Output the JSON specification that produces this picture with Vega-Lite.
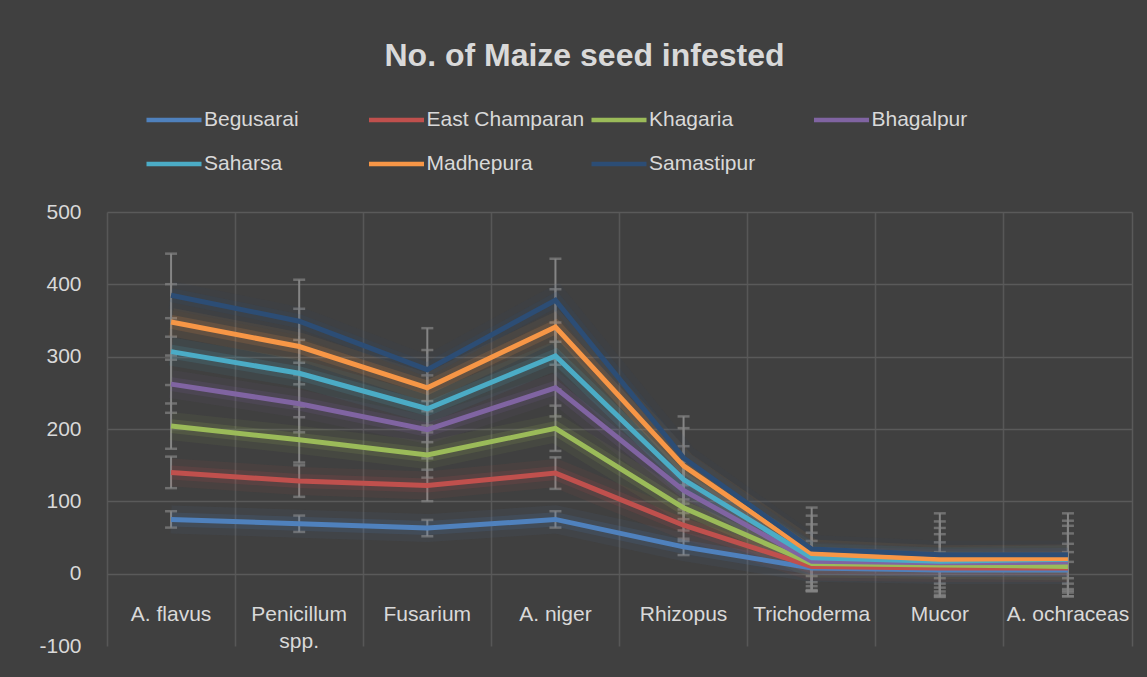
{
  "$schema": "https://vega.github.io/schema/vega-lite/v6.json",
  "width": 1025,
  "height": 434,
  "autosize": {"type": "none"},
  "padding": {"left": 107, "top": 212, "right": 15, "bottom": 31},
  "background": "#404040",
  "title": {"text": "No. of Maize seed infested", "frame": "group", "anchor": "middle", "orient": "top", "offset": 17, "dx": -35, "font": "Liberation Sans", "fontSize": 32, "fontWeight": "bold", "color": "#d9d9d9"},
  "config": {"view": {"stroke": null}, "font": "Liberation Sans"},
  "data": {"values": [
    {"fungus": "A. flavus", "district": "Begusarai", "seeds": 75, "se": 11.3},
    {"fungus": "Penicillum spp.", "district": "Begusarai", "seeds": 69, "se": 11.3},
    {"fungus": "Fusarium", "district": "Begusarai", "seeds": 63, "se": 11.3},
    {"fungus": "A. niger", "district": "Begusarai", "seeds": 75, "se": 11.3},
    {"fungus": "Rhizopus", "district": "Begusarai", "seeds": 37, "se": 11.3},
    {"fungus": "Trichoderma", "district": "Begusarai", "seeds": 8, "se": 11.3},
    {"fungus": "Mucor", "district": "Begusarai", "seeds": 5, "se": 11.3},
    {"fungus": "A. ochraceas", "district": "Begusarai", "seeds": 5, "se": 11.3},
    {"fungus": "A. flavus", "district": "East Champaran", "seeds": 140, "se": 21.8},
    {"fungus": "Penicillum spp.", "district": "East Champaran", "seeds": 128, "se": 21.8},
    {"fungus": "Fusarium", "district": "East Champaran", "seeds": 122, "se": 21.8},
    {"fungus": "A. niger", "district": "East Champaran", "seeds": 139, "se": 21.8},
    {"fungus": "Rhizopus", "district": "East Champaran", "seeds": 67, "se": 21.8},
    {"fungus": "Trichoderma", "district": "East Champaran", "seeds": 10, "se": 21.8},
    {"fungus": "Mucor", "district": "East Champaran", "seeds": 8, "se": 21.8},
    {"fungus": "A. ochraceas", "district": "East Champaran", "seeds": 8, "se": 21.8},
    {"fungus": "A. flavus", "district": "Khagaria", "seeds": 204, "se": 31.3},
    {"fungus": "Penicillum spp.", "district": "Khagaria", "seeds": 185, "se": 31.3},
    {"fungus": "Fusarium", "district": "Khagaria", "seeds": 164, "se": 31.3},
    {"fungus": "A. niger", "district": "Khagaria", "seeds": 201, "se": 31.3},
    {"fungus": "Rhizopus", "district": "Khagaria", "seeds": 91, "se": 31.3},
    {"fungus": "Trichoderma", "district": "Khagaria", "seeds": 14, "se": 31.3},
    {"fungus": "Mucor", "district": "Khagaria", "seeds": 12, "se": 31.3},
    {"fungus": "A. ochraceas", "district": "Khagaria", "seeds": 10, "se": 31.3},
    {"fungus": "A. flavus", "district": "Bhagalpur", "seeds": 262, "se": 39.6},
    {"fungus": "Penicillum spp.", "district": "Bhagalpur", "seeds": 235, "se": 39.6},
    {"fungus": "Fusarium", "district": "Bhagalpur", "seeds": 199, "se": 39.6},
    {"fungus": "A. niger", "district": "Bhagalpur", "seeds": 257, "se": 39.6},
    {"fungus": "Rhizopus", "district": "Bhagalpur", "seeds": 115, "se": 39.6},
    {"fungus": "Trichoderma", "district": "Bhagalpur", "seeds": 17, "se": 39.6},
    {"fungus": "Mucor", "district": "Bhagalpur", "seeds": 15, "se": 39.6},
    {"fungus": "A. ochraceas", "district": "Bhagalpur", "seeds": 16, "se": 39.6},
    {"fungus": "A. flavus", "district": "Saharsa", "seeds": 307, "se": 46.2},
    {"fungus": "Penicillum spp.", "district": "Saharsa", "seeds": 277, "se": 46.2},
    {"fungus": "Fusarium", "district": "Saharsa", "seeds": 228, "se": 46.2},
    {"fungus": "A. niger", "district": "Saharsa", "seeds": 301, "se": 46.2},
    {"fungus": "Rhizopus", "district": "Saharsa", "seeds": 130, "se": 46.2},
    {"fungus": "Trichoderma", "district": "Saharsa", "seeds": 22, "se": 46.2},
    {"fungus": "Mucor", "district": "Saharsa", "seeds": 17, "se": 46.2},
    {"fungus": "A. ochraceas", "district": "Saharsa", "seeds": 20, "se": 46.2},
    {"fungus": "A. flavus", "district": "Madhepura", "seeds": 348, "se": 52.2},
    {"fungus": "Penicillum spp.", "district": "Madhepura", "seeds": 314, "se": 52.2},
    {"fungus": "Fusarium", "district": "Madhepura", "seeds": 257, "se": 52.2},
    {"fungus": "A. niger", "district": "Madhepura", "seeds": 341, "se": 52.2},
    {"fungus": "Rhizopus", "district": "Madhepura", "seeds": 149, "se": 52.2},
    {"fungus": "Trichoderma", "district": "Madhepura", "seeds": 28, "se": 52.2},
    {"fungus": "Mucor", "district": "Madhepura", "seeds": 20, "se": 52.2},
    {"fungus": "A. ochraceas", "district": "Madhepura", "seeds": 21, "se": 52.2},
    {"fungus": "A. flavus", "district": "Samastipur", "seeds": 385, "se": 57.4},
    {"fungus": "Penicillum spp.", "district": "Samastipur", "seeds": 349, "se": 57.4},
    {"fungus": "Fusarium", "district": "Samastipur", "seeds": 282, "se": 57.4},
    {"fungus": "A. niger", "district": "Samastipur", "seeds": 378, "se": 57.4},
    {"fungus": "Rhizopus", "district": "Samastipur", "seeds": 160, "se": 57.4},
    {"fungus": "Trichoderma", "district": "Samastipur", "seeds": 34, "se": 57.4},
    {"fungus": "Mucor", "district": "Samastipur", "seeds": 26, "se": 57.4},
    {"fungus": "A. ochraceas", "district": "Samastipur", "seeds": 26, "se": 57.4}
  ]},
  "layer": [
    {
      "mark": {"type": "errorbar", "color": "#858585", "ticks": {"size": 12, "thickness": 2.5, "color": "#858585"}, "rule": {"strokeWidth": 2, "color": "#858585"}},
      "encoding": {
        "x": {"field": "fungus", "type": "nominal", "sort": ["A. flavus", "Penicillum spp.", "Fusarium", "A. niger", "Rhizopus", "Trichoderma", "Mucor", "A. ochraceas"], "scale": {"paddingInner": 0, "paddingOuter": 0},
          "axis": {"orient": "bottom", "bandPosition": 0, "grid": true, "gridColor": "#575757", "gridWidth": 1.5, "labels": false, "ticks": false, "domain": false, "title": null}},
        "y": {"field": "seeds", "type": "quantitative", "scale": {"domain": [-100, 500], "nice": false, "zero": false},
          "axis": {"orient": "left", "values": [-100, 0, 100, 200, 300, 400, 500], "labelExpr": "datum.value == -100 ? '-100' : datum.label", "labelFontSize": 21, "labelColor": "#d9d9d9", "labelFont": "Liberation Sans", "labelPadding": 26, "ticks": false, "domain": false, "grid": true, "gridColor": "#5a5a5a", "gridWidth": 1.5, "gridOpacity": {"condition": {"test": "datum.value == -100", "value": 0}, "value": 1}, "title": null}},
        "yError": {"field": "se"},
        "detail": {"field": "district", "type": "nominal"}
      }
    },
    {
      "mark": {"type": "line", "strokeWidth": 28, "opacity": 0.07},
      "encoding": {
        "x": {"field": "fungus", "type": "nominal", "sort": ["A. flavus", "Penicillum spp.", "Fusarium", "A. niger", "Rhizopus", "Trichoderma", "Mucor", "A. ochraceas"], "axis": null},
        "y": {"field": "seeds", "type": "quantitative", "axis": null},
        "color": {"field": "district", "type": "nominal", "scale": {"domain": ["Begusarai", "East Champaran", "Khagaria", "Bhagalpur", "Saharsa", "Madhepura", "Samastipur"], "range": ["#4f81bd", "#c0504d", "#9bbb59", "#8064a2", "#4bacc6", "#f79646", "#2c4d75"]}, "legend": null}
      }
    },
    {
      "mark": {"type": "line", "strokeWidth": 14, "opacity": 0.14},
      "encoding": {
        "x": {"field": "fungus", "type": "nominal", "sort": ["A. flavus", "Penicillum spp.", "Fusarium", "A. niger", "Rhizopus", "Trichoderma", "Mucor", "A. ochraceas"], "axis": null},
        "y": {"field": "seeds", "type": "quantitative", "axis": {"orient": "right", "labels": false, "ticks": false, "grid": false, "domain": true, "domainColor": "#5a5a5a", "domainWidth": 1.5, "title": null}},
        "color": {"field": "district", "type": "nominal", "scale": {"domain": ["Begusarai", "East Champaran", "Khagaria", "Bhagalpur", "Saharsa", "Madhepura", "Samastipur"], "range": ["#4f81bd", "#c0504d", "#9bbb59", "#8064a2", "#4bacc6", "#f79646", "#2c4d75"]}, "legend": null}
      }
    },
    {
      "mark": {"type": "line", "strokeWidth": 5},
      "encoding": {
        "x": {"field": "fungus", "type": "nominal", "sort": ["A. flavus", "Penicillum spp.", "Fusarium", "A. niger", "Rhizopus", "Trichoderma", "Mucor", "A. ochraceas"],
          "axis": {"orient": "bottom", "offset": -43, "labelPadding": 0, "ticks": false, "domain": false, "grid": false, "labelAngle": 0, "labelFontSize": 21, "labelColor": "#d9d9d9", "labelFont": "Liberation Sans", "labelLineHeight": 27, "labelExpr": "datum.value == 'Penicillum spp.' ? ['Penicillum', 'spp.'] : datum.value", "title": null}},
        "y": {"field": "seeds", "type": "quantitative", "axis": null},
        "color": {"field": "district", "type": "nominal", "scale": {"domain": ["Begusarai", "East Champaran", "Khagaria", "Bhagalpur", "Saharsa", "Madhepura", "Samastipur"], "range": ["#4f81bd", "#c0504d", "#9bbb59", "#8064a2", "#4bacc6", "#f79646", "#2c4d75"]},
          "legend": {"orient": "none", "legendX": 37, "legendY": -122, "direction": "horizontal", "columns": 4, "gridAlign": "all", "symbolType": "stroke", "symbolSize": 3025, "symbolStrokeWidth": 4.5, "labelFontSize": 21, "labelColor": "#d9d9d9", "labelFont": "Liberation Sans", "columnPadding": -2.5, "rowPadding": 4, "labelOffset": 0, "labelLimit": 300, "title": null}}
      }
    }
  ],
  "resolve": {"axis": {"x": "independent", "y": "independent"}, "legend": {"color": "independent"}}
}
